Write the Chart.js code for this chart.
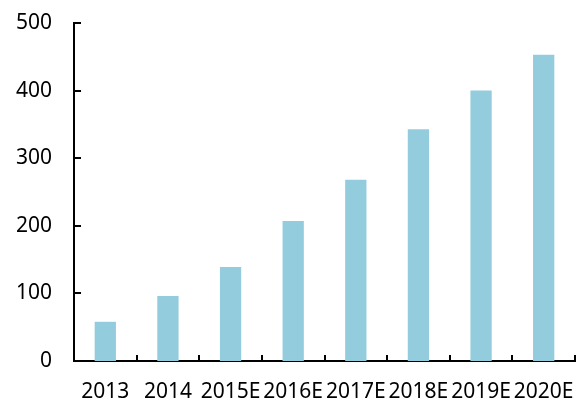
<!DOCTYPE html>
<html>
<head>
<meta charset="utf-8">
<script src="https://cdn.jsdelivr.net/npm/chart.js@4"></script>
<style>
  html, body { margin: 0; padding: 0; background: #fff; }
  #wrap { width: 582px; height: 403px; }
</style>
</head>
<body>
<div id="wrap"><canvas id="chart" width="582" height="403"></canvas></div>
<script>
// chart data
const years = ["2013", "2014", "2015E", "2016E", "2017E", "2018E", "2019E", "2020E"];
const values = [58, 96, 139, 207, 268, 343, 400, 453];
const yTicks = [0, 100, 200, 300, 400, 500];

const barColor = "#93cddd";
const axisFont = { family: "'Noto Sans', 'Open Sans', sans-serif", size: 21 };

// small inward tick marks, like the original
const innerTicks = {
  id: "innerTicks",
  afterDraw(chart) {
    const { ctx, chartArea, scales } = chart;
    ctx.save();
    ctx.strokeStyle = "#000";
    ctx.lineWidth = 2;
    ctx.beginPath();
    yTicks.forEach(v => {
      const y = Math.round(scales.y.getPixelForValue(v));
      ctx.moveTo(chartArea.left, y);
      ctx.lineTo(chartArea.left + 7, y);
    });
    for (let i = 0; i < years.length; i++) {
      let x;
      if (i === years.length - 1) x = chartArea.right;
      else x = (scales.x.getPixelForValue(i) + scales.x.getPixelForValue(i + 1)) / 2;
      x = Math.round(x);
      ctx.moveTo(x, chartArea.bottom);
      ctx.lineTo(x, chartArea.bottom - 6);
    }
    ctx.stroke();
    ctx.restore();
  }
};

new Chart(document.getElementById("chart"), {
  type: "bar",
  data: {
    labels: years,
    datasets: [{
      data: values,
      backgroundColor: barColor,
      borderWidth: 0,
      categoryPercentage: 1,
      barPercentage: 0.34
    }]
  },
  options: {
    responsive: false,
    animation: false,
    layout: { padding: { top: 23, right: 7, left: 0, bottom: 0 } },
    plugins: { legend: { display: false }, tooltip: { enabled: false } },
    scales: {
      x: {
        grid: { display: false, drawTicks: false },
        border: { display: true, color: "#000", width: 2 },
        ticks: { color: "#000", font: axisFont, padding: 18, maxRotation: 0, autoSkip: false },
        afterFit(scale) {
          scale.height = 42;
          scale.paddingLeft = 0;
          scale.paddingRight = 0;
        }
      },
      y: {
        min: 0,
        max: 500,
        grid: { display: false, drawTicks: false },
        border: { display: true, color: "#000", width: 2 },
        ticks: { color: "#000", font: axisFont, stepSize: 100, padding: 22 },
        afterFit(scale) {
          scale.width = 74;
          scale.paddingTop = 0;
          scale.paddingBottom = 0;
        }
      }
    }
  },
  plugins: [innerTicks]
});
</script>
</body>
</html>
